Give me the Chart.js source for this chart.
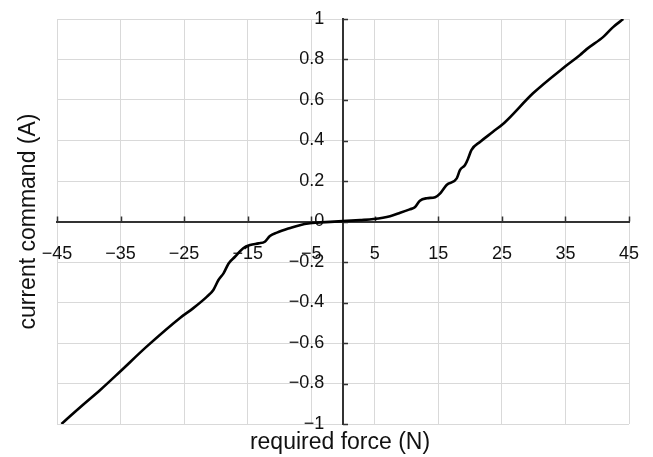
<!DOCTYPE html>
<html>
<head>
<meta charset="utf-8">
<script src="https://cdn.jsdelivr.net/npm/chart.js@4.4.1/dist/chart.umd.min.js"></script>
<style>
  html, body { margin: 0; padding: 0; background: #ffffff; }
  #wrap { position: relative; width: 653px; height: 457px; }
</style>
</head>
<body>
<div id="wrap"><canvas id="chart" width="653" height="457"></canvas></div>
<script>
// Required force (N) and the matching current command (A)
const forceN = [
  -44.3, -43.0, -40.9, -38.2, -35.1, -30.9, -25.6, -23.6, -21.4, -20.4,
  -19.6, -18.8, -18.0, -17.0, -15.7, -14.6, -13.3, -12.3, -11.5, -10.4,
  -8.3, -6.8, -5.2, -4.1, -2.0, 0.6, 2.7, 4.8, 7.4, 9.0,
  10.5, 11.3, 12.1, 13.2, 14.5, 15.3, 16.3, 17.9, 18.4, 19.2,
  19.7, 20.2, 21.6, 23.6, 25.4, 29.9, 34.9, 37.3, 38.3, 41.0,
  42.5, 44.1
];
const currentA = [
  -1.000, -0.963, -0.905, -0.832, -0.742, -0.618, -0.475, -0.429, -0.371, -0.338,
  -0.289, -0.256, -0.207, -0.174, -0.132, -0.116, -0.108, -0.100, -0.072, -0.055,
  -0.032, -0.018, -0.009, -0.006, -0.002, 0.003, 0.007, 0.012, 0.026, 0.043,
  0.060, 0.070, 0.103, 0.115, 0.120, 0.139, 0.180, 0.213, 0.254, 0.279,
  0.312, 0.353, 0.394, 0.443, 0.488, 0.633, 0.764, 0.822, 0.850, 0.913,
  0.960, 1.000
];

// Axis ticks and their labels
const xTickValues = [-45, -35, -25, -15, -5, 5, 15, 25, 35, 45];
const xTickLabels = ['\u221245', '\u221235', '\u221225', '\u221215', '\u22125', '5', '15', '25', '35', '45'];
const yTickValues = [-1, -0.8, -0.6, -0.4, -0.2, 0, 0.2, 0.4, 0.6, 0.8, 1];
const yTickLabels = ['\u22121', '\u22120.8', '\u22120.6', '\u22120.4', '\u22120.2', '0', '0.2', '0.4', '0.6', '0.8', '1'];

const xTitle = 'required force (N)';
const yTitle = 'current command (A)';

const FONT = "'Liberation Sans', Arial, Helvetica, sans-serif";
const AXIS_COLOR = '#333333';
const GRID_COLOR = '#d9d9d9';
const TEXT_COLOR = '#111111';

// Tick labels hang a little off the crossing axes: the value labels sit left
// of the vertical axis, the force labels sit below the horizontal one.
const Y_LABEL_AT_FORCE = -2.95;
const X_LABEL_AT_CURRENT = -0.107;

const points = forceN.map((f, i) => ({ x: f, y: currentA[i] }));

function labelFor(values, labels) {
  return (value) => {
    const i = values.findIndex(v => Math.abs(v - value) < 1e-9);
    return i >= 0 ? labels[i] : '';
  };
}

const tickFont = { family: FONT, size: 18 };

// Short inward tick marks on the crossing axes, plus the two axis titles
const axisDecor = {
  id: 'axisDecor',
  beforeDatasetsDraw(chart) {
    const { ctx, scales: { x, y } } = chart;
    const x0 = x.getPixelForValue(0);
    const y0 = y.getPixelForValue(0);
    ctx.save();
    ctx.strokeStyle = AXIS_COLOR;
    ctx.lineWidth = 1.5;
    ctx.beginPath();
    x.ticks.forEach(t => {
      const px = Math.round(x.getPixelForValue(t.value)) + 0.5;
      ctx.moveTo(px, y0);
      ctx.lineTo(px, y0 - 5);
    });
    y.ticks.forEach(t => {
      const py = Math.round(y.getPixelForValue(t.value)) + 0.5;
      ctx.moveTo(x0, py);
      ctx.lineTo(x0 + 5, py);
    });
    ctx.stroke();
    ctx.restore();
  },
  afterDraw(chart) {
    const { ctx, chartArea } = chart;
    ctx.save();
    ctx.fillStyle = TEXT_COLOR;
    ctx.font = '23px ' + FONT;
    ctx.textAlign = 'center';
    ctx.textBaseline = 'middle';
    ctx.fillText(xTitle, (chartArea.left + chartArea.right) / 2 - 3, 443);
    ctx.translate(29, (chartArea.top + chartArea.bottom) / 2);
    ctx.rotate(-Math.PI / 2);
    ctx.fillText(yTitle, 0, 0);
    ctx.restore();
  }
};

new Chart(document.getElementById('chart'), {
  type: 'line',
  data: {
    datasets: [{
      data: points,
      borderColor: '#000000',
      borderWidth: 2.6,
      pointRadius: 0,
      fill: false,
      cubicInterpolationMode: 'monotone'
    }]
  },
  options: {
    responsive: false,
    animation: false,
    devicePixelRatio: 1,
    layout: { padding: { left: 57, right: 24, top: 19, bottom: 33 } },
    plugins: {
      legend: { display: false },
      tooltip: { enabled: false }
    },
    scales: {
      x: {
        type: 'linear',
        position: { y: 0 },
        min: -45,
        max: 45,
        afterBuildTicks: (scale) => { scale.ticks = xTickValues.map(v => ({ value: v })); },
        grid: { color: GRID_COLOR, lineWidth: 1, drawTicks: false },
        border: { display: true, color: AXIS_COLOR, width: 2 },
        ticks: { display: false }
      },
      xLabels: {
        type: 'linear',
        axis: 'x',
        position: { y: X_LABEL_AT_CURRENT },
        min: -45,
        max: 45,
        afterBuildTicks: (scale) => { scale.ticks = xTickValues.map(v => ({ value: v })); },
        grid: { display: false, drawTicks: false },
        border: { display: false },
        ticks: {
          autoSkip: false,
          maxRotation: 0,
          padding: 0,
          color: TEXT_COLOR,
          font: tickFont,
          callback: labelFor(xTickValues, xTickLabels)
        }
      },
      y: {
        type: 'linear',
        position: { x: 0 },
        min: -1,
        max: 1,
        afterBuildTicks: (scale) => { scale.ticks = yTickValues.map(v => ({ value: v })); },
        grid: { color: GRID_COLOR, lineWidth: 1, drawTicks: false },
        border: { display: true, color: AXIS_COLOR, width: 2 },
        ticks: { display: false }
      },
      yLabels: {
        type: 'linear',
        axis: 'y',
        position: { x: Y_LABEL_AT_FORCE },
        min: -1,
        max: 1,
        afterBuildTicks: (scale) => { scale.ticks = yTickValues.map(v => ({ value: v })); },
        grid: { display: false, drawTicks: false },
        border: { display: false },
        ticks: {
          autoSkip: false,
          padding: 0,
          color: TEXT_COLOR,
          font: tickFont,
          callback: labelFor(yTickValues, yTickLabels)
        }
      }
    }
  },
  plugins: [axisDecor]
});
</script>
</body>
</html>
